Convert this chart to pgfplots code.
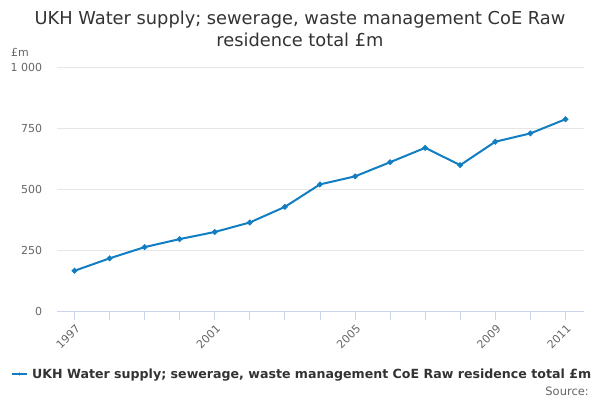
\documentclass[border=0pt]{standalone}
\usepackage{pgfplots}
\pgfplotsset{compat=1.18}
\usepackage{fontspec}
\setmainfont{DejaVu Sans}
\definecolor{lineblue}{HTML}{117DC2}
\definecolor{gridc}{HTML}{E6E6E6}
\definecolor{axisc}{HTML}{CCD6EB}
\definecolor{labc}{HTML}{666666}
\definecolor{titc}{HTML}{333333}
\begin{document}
\begin{tikzpicture}
\path[use as bounding box] (0pt,0pt) rectangle (600pt,400pt);
\begin{axis}[
  at={(57.3pt,88.7pt)}, anchor=south west,
  scale only axis, width=526.7pt, height=244pt,
  xmin=1996.51, xmax=2011.53, ymin=0, ymax=1000,
  axis line style={draw=none},
  axis x line*=bottom, axis y line*=left,
  xtick={1997,2001,2005,2009,2011},
  xticklabels={1997,2001,2005,2009,2011},
  minor xtick={1998,1999,2000,2002,2003,2004,2006,2007,2008,2010},
  ytick={0,250,500,750,1000},
  yticklabels={0,250,500,750,1 000},
  ymajorgrids, grid style={gridc, line width=0.8pt},
  major x tick style={axisc, line width=0.8pt},
  minor x tick style={axisc, line width=0.8pt},
  major tick length=9pt, minor tick length=9pt,
  xtick align=outside,
  ytick style={draw=none},
  tick label style={font=\fontsize{11}{13}\selectfont, text=labc},
  /pgf/number format/assume math mode=true,
  xticklabel style={rotate=45, anchor=east, inner sep=0pt, yshift=-7pt, xshift=-2pt},
  yticklabel style={anchor=east, inner sep=0pt, xshift=-15pt},
  clip=false,
]
\draw[axisc, line width=1pt] (axis cs:1996.51,0) -- (axis cs:2011.53,0);
\addplot[lineblue, line width=2pt, mark=*, mark size=1.7pt, mark options={solid, fill=lineblue, draw=lineblue}] coordinates {
(1997,166) (1998,217) (1999,263) (2000,296) (2001,325) (2002,364) (2003,428) (2004,520) (2005,553) (2006,611) (2007,670) (2008,599) (2009,695) (2010,729) (2011,787)
};
\end{axis}
\node[anchor=base, text=titc, font=\fontsize{17.8}{20}\selectfont] at (300pt,375pt) {UKH Water supply; sewerage, waste management CoE Raw};
\node[anchor=base, text=titc, font=\fontsize{17.8}{20}\selectfont] at (300pt,353pt) {residence total £m};
\node[anchor=base west, inner sep=0pt, text=labc, font=\fontsize{11}{13}\selectfont] at (11pt,344pt) {£m};
\draw[lineblue, line width=2pt] (12pt,26pt) -- (27pt,26pt);
\fill[lineblue] (19.5pt,26pt) circle (1.7pt);
\node[anchor=base west, inner sep=0pt, text=titc, font=\bfseries\fontsize{12.6}{14}\selectfont] at (32pt,22pt) {UKH Water supply; sewerage, waste management CoE Raw residence total £m};
\node[anchor=base east, inner sep=0pt, text=labc, font=\fontsize{11.5}{14}\selectfont] at (589pt,5pt) {Source:};
\end{tikzpicture}
\end{document}
